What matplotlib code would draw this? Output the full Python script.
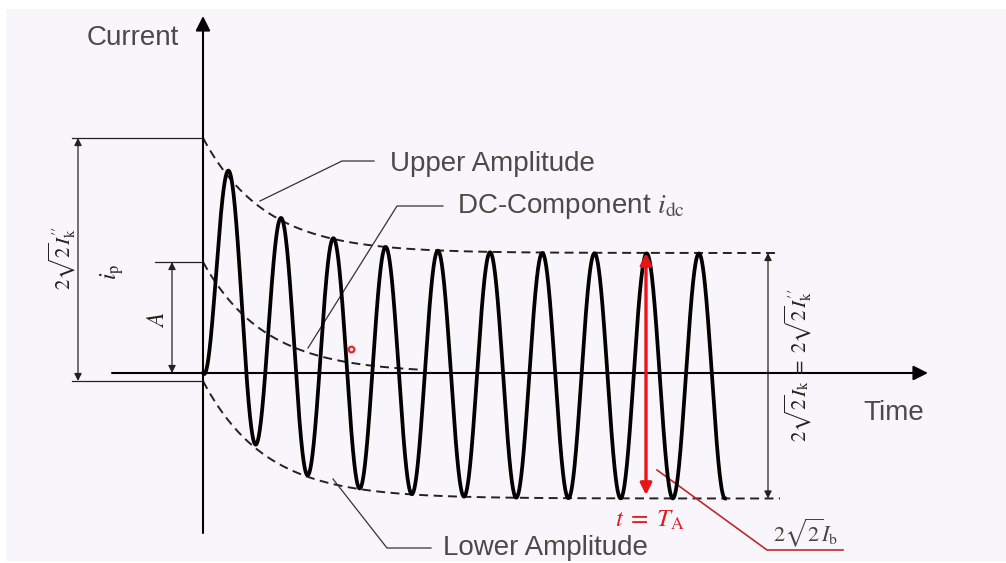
import numpy as np
import matplotlib
matplotlib.use("Agg")
import matplotlib.pyplot as plt
from matplotlib.patches import Rectangle

plt.rcParams["font.family"] = ["Liberation Sans", "DejaVu Sans"]
plt.rcParams["mathtext.fontset"] = "stix"

# values (time and current in pixel-like units, origin at axes crossing)
period = 52.2          # length of one cycle
tau = 62.0             # decay constant of the dc part
ac_amp = 122.5         # steady ac amplitude
dc_start = 125.5       # dc part at t = 0 in the waveform
wave_offset = -3.0
t_end = 522.0          # waveform stops at the 10th trough

upper_env = (235.0, 120.0)   # start, steady value
lower_env = (-8.0, -125.5)
dc_curve_start = 111.0       # "A"
dc_curve_end_t = 215.0
env_end_t = 577.0

peak_1 = 174 - 373           # i_p level (used for the extension line)
t_marker = 443.0             # t = T_A

labels_left = [r"$2\sqrt{2}I_{\mathrm{k}}^{\prime\prime}$", r"$i_{\mathrm{p}}$", r"$A$"]
label_right = r"$2\sqrt{2}I_{\mathrm{k}}\;=\;2\sqrt{2}I_{\mathrm{k}}^{\prime\prime}$"

t = np.linspace(0, t_end, 3000)
decay = np.exp(-t / tau)
current = -ac_amp * np.cos(2 * np.pi * t / period) + dc_start * decay + wave_offset

t_env = np.linspace(0, env_end_t, 600)
upper = upper_env[1] + (upper_env[0] - upper_env[1]) * np.exp(-t_env / tau)
lower = lower_env[1] + (lower_env[0] - lower_env[1]) * np.exp(-t_env / tau)
t_dc = np.linspace(0, dc_curve_end_t, 300)
dc_line = dc_curve_start * np.exp(-t_dc / tau)

fig = plt.figure(figsize=(10.06, 5.63), dpi=100, facecolor="white")
ax = fig.add_axes([0, 0, 1, 1])
ax.set_xlim(-203, 803)
ax.set_ylim(-190, 373)
ax.axis("off")

ax.add_patch(Rectangle((-197, -188), 1000, 552, facecolor="#f8f6fb", edgecolor="none", zorder=0))

ink = "#222222"
thin = 0.9
dash_kw = dict(color=ink, lw=1.4, dashes=(4.6, 2.8))

# axes with arrows
ax.annotate("", xy=(0, 357), xytext=(0, -160),
            arrowprops=dict(arrowstyle="-|>", mutation_scale=22, lw=1.5, color="black",
                            shrinkA=0, shrinkB=0))
ax.annotate("", xy=(725, 0), xytext=(-91, 0),
            arrowprops=dict(arrowstyle="-|>", mutation_scale=22, lw=1.5, color="black",
                            shrinkA=0, shrinkB=0))

# waveform and envelopes
ax.plot(t, current, color="black", lw=2.7, solid_joinstyle="round", zorder=3)
ax.plot(t_env, upper, **dash_kw)
ax.plot(t_env, lower, **dash_kw)
ax.plot(t_dc, dc_line, **dash_kw)

# extension lines on the left
ax.plot([-131, 0], [upper_env[0], upper_env[0]], color=ink, lw=thin)
ax.plot([-131, 0], [lower_env[0], lower_env[0]], color=ink, lw=thin)
ax.plot([-91, 26], [peak_1, peak_1], color=ink, lw=thin)
ax.plot([-48, 0], [dc_curve_start, dc_curve_start], color=ink, lw=thin)

dim_kw = dict(arrowstyle="<|-|>", mutation_scale=11, lw=thin, color=ink, shrinkA=0, shrinkB=0)
ax.annotate("", xy=(-125, upper_env[0]), xytext=(-125, lower_env[0]), arrowprops=dim_kw)
ax.annotate("", xy=(-76, peak_1), xytext=(-76, 0), arrowprops=dim_kw)
ax.annotate("", xy=(-31, dc_curve_start), xytext=(-31, 0), arrowprops=dim_kw)
ax.annotate("", xy=(565, upper_env[1]), xytext=(565, lower_env[1]), arrowprops=dim_kw)

ax.text(-141, 115, labels_left[0], rotation=90, fontsize=15, color=ink, ha="center", va="center")
ax.text(-91, 101, labels_left[1], rotation=90, fontsize=17, color=ink, ha="center", va="center")
ax.text(-45, 53, labels_left[2], rotation=90, fontsize=17, color=ink, ha="center", va="center")
ax.text(595, 8, label_right, rotation=90, fontsize=15, color=ink, ha="center", va="center")

# red marker at t = T_A
ax.annotate("", xy=(t_marker, upper_env[1]), xytext=(t_marker, -122),
            arrowprops=dict(arrowstyle="<|-|>", mutation_scale=17, lw=2.4, color="#e8141b",
                            shrinkA=0, shrinkB=0), zorder=4)
ax.text(447, -147, r"$t\;=\;T_{\mathrm{A}}$", fontsize=18, color="#e01b22", ha="center", va="center")
ax.plot([454, 564, 640], [-97, -177, -177], color="#c0282d", lw=1.2)
ax.text(603, -160, r"$2\sqrt{2}I_{\mathrm{b}}$", fontsize=16, color="#444444", ha="center", va="center")

# leaders and names
ax.plot([57, 139, 171], [172, 212, 212], color="#333333", lw=thin)
ax.plot([105, 194, 240], [25, 167, 167], color="#333333", lw=thin)
ax.plot([130, 184, 228], [-106, -175, -175], color="#333333", lw=thin)

txt = "#4a4a4a"
ax.text(187, 202, "Upper Amplitude", fontsize=20, color=txt, va="baseline")
ax.text(254, 160, r"DC-Component $i_{\mathrm{dc}}$", fontsize=20, color=txt, va="baseline")
ax.text(240, -182, "Lower Amplitude", fontsize=20, color=txt, va="baseline")
ax.text(-116, 328, "Current", fontsize=20, color=txt, va="baseline")
ax.text(660, -47, "Time", fontsize=20, color=txt, va="baseline")

# cursor highlight
ax.plot([148], [24], "o", ms=7, mfc="#f5b5b5", mec="none", alpha=0.6)
ax.plot([148], [24], "o", ms=4, mfc="none", mec="#e01b22", mew=1.3)

fig.savefig("out.png", dpi=100, facecolor="white")
